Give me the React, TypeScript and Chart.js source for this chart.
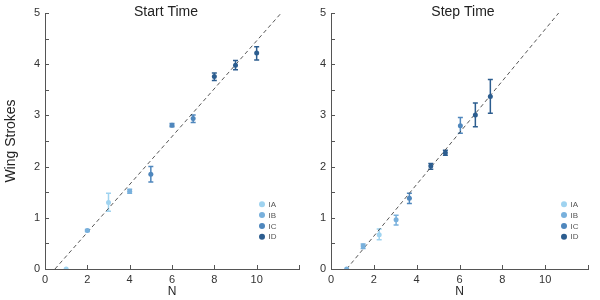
import React, { useEffect, useRef } from 'react';
import { Chart, registerables } from 'chart.js';

Chart.register(...registerables);
Chart.defaults.font.family = "'Liberation Sans', Arial, Helvetica, sans-serif";

const groups = ['IA', 'IB', 'IC', 'ID'];
const groupColors = ['#9fd3f0', '#78b0dc', '#4f87bd', '#2c5d8f'];

// Start Time panel
const startN = [1, 2, 3, 4, 5, 6, 7, 8, 9, 10];
const startY = [0.0, 0.75, 1.3, 1.52, 1.85, 2.81, 2.94, 3.76, 3.98, 4.22];
const startLow = [0.0, 0.73, 1.13, 1.48, 1.7, 2.78, 2.86, 3.68, 3.89, 4.08];
const startHigh = [0.0, 0.77, 1.48, 1.56, 2.0, 2.84, 3.01, 3.83, 4.07, 4.34];
const startGroup = ['IA', 'IB', 'IA', 'IB', 'IC', 'IC', 'IC', 'ID', 'ID', 'ID'];
const startFitN = [0.47, 11.16];
const startFitY = [0, 5];

// Step Time panel
const stepN = [0.73, 1.5, 2.25, 3.04, 3.66, 4.66, 5.34, 6.04, 6.74, 7.44];
const stepY = [0.0, 0.45, 0.67, 0.96, 1.38, 2.01, 2.27, 2.8, 3.01, 3.37];
const stepLow = [0.0, 0.4, 0.57, 0.86, 1.28, 1.95, 2.22, 2.65, 2.78, 3.04];
const stepHigh = [0.0, 0.49, 0.78, 1.05, 1.48, 2.06, 2.32, 2.96, 3.24, 3.7];
const stepGroup = ['IB', 'IB', 'IA', 'IB', 'IC', 'ID', 'ID', 'IC', 'ID', 'ID'];
const stepFitN = [0.73, 10.63];
const stepFitY = [0, 5];

const xTicks = [0, 2, 4, 6, 8, 10];
const yTicks = [0, 1, 2, 3, 4, 5];

type Panel = {
  title: string;
  n: number[];
  y: number[];
  low: number[];
  high: number[];
  group: string[];
  fitN: number[];
  fitY: number[];
  yTitle: string;
};

const panels: Panel[] = [
  { title: 'Start Time', n: startN, y: startY, low: startLow, high: startHigh, group: startGroup, fitN: startFitN, fitY: startFitY, yTitle: 'Wing Strokes' },
  { title: 'Step Time', n: stepN, y: stepY, low: stepLow, high: stepHigh, group: stepGroup, fitN: stepFitN, fitY: stepFitY, yTitle: '' },
];

const errorBarPlugin = {
  id: 'errorBars',
  beforeDatasetsDraw(chart: any) {
    const ctx = chart.ctx;
    const xs = chart.scales.x;
    const ys = chart.scales.y;
    chart.data.datasets.forEach((ds: any) => {
      if (ds.isFit) return;
      ds.data.forEach((p: any) => {
        if (p.yMin === p.yMax) return;
        const px = xs.getPixelForValue(p.x);
        const y1 = ys.getPixelForValue(p.yMin);
        const y2 = ys.getPixelForValue(p.yMax);
        ctx.save();
        ctx.strokeStyle = ds.borderColor;
        ctx.lineWidth = 1.5;
        ctx.beginPath();
        ctx.moveTo(px, y1);
        ctx.lineTo(px, y2);
        ctx.moveTo(px - 2.5, y1);
        ctx.lineTo(px + 2.5, y1);
        ctx.moveTo(px - 2.5, y2);
        ctx.lineTo(px + 2.5, y2);
        ctx.stroke();
        ctx.restore();
      });
    });
  },
};

const decorPlugin = {
  id: 'decor',
  afterDraw(chart: any, _args: any, opts: any) {
    const ctx = chart.ctx;
    const xs = chart.scales.x;
    const ys = chart.scales.y;
    const area = chart.chartArea;
    ctx.save();
    // inward ticks
    ctx.strokeStyle = '#555';
    ctx.lineWidth = 1;
    ctx.beginPath();
    xs.ticks.forEach((_t: any, i: number) => {
      const px = Math.round(xs.getPixelForTick(i)) + 0.5;
      ctx.moveTo(px, area.bottom);
      ctx.lineTo(px, area.bottom - 4);
    });
    ys.ticks.forEach((_t: any, i: number) => {
      const py = Math.round(ys.getPixelForTick(i)) + 0.5;
      ctx.moveTo(area.left, py);
      ctx.lineTo(area.left + 4, py);
    });
    ctx.stroke();
    // title
    ctx.fillStyle = '#222';
    ctx.font = "14px 'Liberation Sans', Arial, sans-serif";
    ctx.textAlign = 'center';
    ctx.textBaseline = 'middle';
    ctx.fillText(opts.title, area.left + opts.titleDx, 12);
    // legend
    ctx.font = "8px 'Liberation Sans', Arial, sans-serif";
    ctx.textAlign = 'left';
    groups.forEach((g, i) => {
      const cx = area.right - opts.legendDx;
      const cy = area.bottom - 64.7 + i * 10.8;
      ctx.fillStyle = groupColors[i];
      ctx.beginPath();
      ctx.arc(cx, cy, 3, 0, Math.PI * 2);
      ctx.fill();
      ctx.fillStyle = '#555';
      ctx.fillText(g, cx + 6.5, cy + 0.5);
    });
    ctx.restore();
  },
};

function ChartPanel({ panel, width, left, padRight, yWidth, titleDx, legendDx }: any) {
  const ref = useRef<HTMLCanvasElement>(null);
  useEffect(() => {
    const datasets: any[] = groups.map((g, gi) => ({
      label: g,
      data: panel.n
        .map((n: number, i: number) => ({ x: n, y: panel.y[i], yMin: panel.low[i], yMax: panel.high[i], g: panel.group[i] }))
        .filter((p: any) => p.g === g),
      backgroundColor: groupColors[gi],
      borderColor: groupColors[gi],
      pointRadius: 2.5,
      pointBorderWidth: 0,
    }));
    datasets.push({
      label: 'fit',
      isFit: true,
      data: panel.fitN.map((n: number, i: number) => ({ x: n, y: panel.fitY[i] })),
      showLine: true,
      borderColor: '#444',
      borderWidth: 0.9,
      borderDash: [4, 3],
      pointRadius: 0,
    });
    const chart = new Chart(ref.current as HTMLCanvasElement, {
      type: 'scatter',
      data: { datasets },
      options: {
        animation: false,
        responsive: false,
        devicePixelRatio: 1,
        layout: { padding: { left: 0, right: padRight, top: 13, bottom: 0 } },
        plugins: {
          legend: { display: false },
          tooltip: { enabled: false },
          decor: { title: panel.title, titleDx, legendDx },
        } as any,
        scales: {
          x: {
            type: 'linear',
            min: 0,
            max: 12,
            grid: { display: false, drawTicks: false },
            border: { display: true, color: '#555', width: 1 },
            ticks: {
              stepSize: 2,
              color: '#333',
              font: { size: 11 },
              padding: 4,
              maxRotation: 0,
              callback: (v: any) => (xTicks.includes(Number(v)) ? String(v) : ''),
            },
            title: { display: true, text: 'N', color: '#222', font: { size: 12 }, padding: { top: 0, bottom: 1 } },
            afterFit: (s: any) => {
              s.height = 31;
            },
          },
          y: {
            type: 'linear',
            min: 0,
            max: 5,
            grid: { display: false, drawTicks: false },
            border: { display: true, color: '#555', width: 1 },
            ticks: {
              stepSize: 0.5,
              color: '#333',
              font: { size: 11 },
              padding: 5,
              callback: (v: any) => (yTicks.includes(Number(v)) ? String(v) : ''),
            },
            title: {
              display: panel.yTitle !== '',
              text: panel.yTitle,
              color: '#222',
              font: { size: 14 },
              padding: { top: 3, bottom: 0 },
            },
            afterFit: (s: any) => {
              s.width = yWidth;
            },
          },
        },
      },
      plugins: [errorBarPlugin, decorPlugin],
    } as any);
    return () => chart.destroy();
  }, []);
  return (
    <canvas
      ref={ref}
      width={width}
      height={300}
      style={{ position: 'absolute', left, top: 0, width, height: 300 }}
    />
  );
}

export default function App() {
  return (
    <div style={{ position: 'fixed', left: 0, top: 0, width: 600, height: 300, background: '#fff' }}>
      <ChartPanel panel={panels[0]} width={303} left={0} padRight={2} yWidth={45} titleDx={121} legendDx={37} />
      <ChartPanel panel={panels[1]} width={300} left={300} padRight={12} yWidth={31} titleDx={132} legendDx={24} />
    </div>
  );
}
